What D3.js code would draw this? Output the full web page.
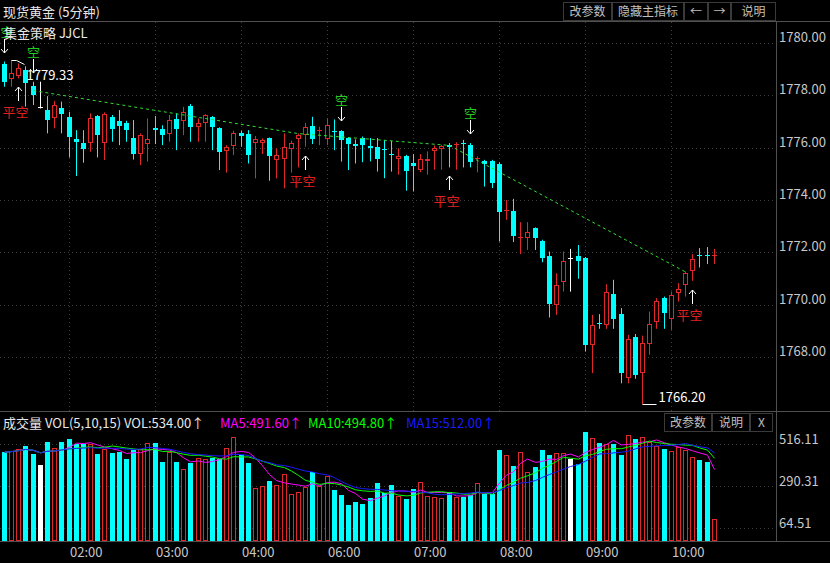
<!DOCTYPE html>
<html><head><meta charset="utf-8">
<script src="https://cdn.jsdelivr.net/npm/d3@7"></script>
<style>
body{margin:0;background:#000;}
svg{display:block;}
text{font-family:"Noto Sans CJK SC","Noto Sans",sans-serif;}
</style>
</head><body><svg id="c" width="830" height="563"></svg>
<script>
// ---------- data ----------
const times = [
"01:15","01:20","01:25","01:30","01:35","01:40","01:45","01:50","01:55",
"02:00","02:05","02:10","02:15","02:20","02:25","02:30","02:35","02:40","02:45","02:50","02:55",
"03:00","03:05","03:10","03:15","03:20","03:25","03:30","03:35","03:40","03:45","03:50","03:55",
"04:00","04:05","04:10","04:15","04:20","04:25","04:30","04:35","04:40","04:45","04:50","04:55",
"06:00","06:05","06:10","06:15","06:20","06:25","06:30","06:35","06:40","06:45","06:50","06:55",
"07:00","07:05","07:10","07:15","07:20","07:25","07:30","07:35","07:40","07:45","07:50","07:55",
"08:00","08:05","08:10","08:15","08:20","08:25","08:30","08:35","08:40","08:45","08:50","08:55",
"09:00","09:05","09:10","09:15","09:20","09:25","09:30","09:35","09:40","09:45","09:50","09:55",
"10:00","10:05","10:10","10:15","10:20","10:25","10:30"];

const open = [
1779.19,1778.60,1778.73,1778.96,1778.35,1777.55,1777.45,1777.11,1777.49,1777.15,
1776.31,1776.16,1776.16,1777.20,1776.16,1777.17,1777.01,1776.92,1776.38,1775.77,
1776.12,1776.74,1776.72,1776.51,1777.07,1777.01,1777.58,1776.77,1776.94,1777.15,
1776.73,1775.88,1776.05,1776.54,1776.51,1776.16,1776.18,1776.35,1775.52,1775.58,
1775.96,1776.31,1776.47,1776.82,1776.63,1776.31,1776.64,1776.63,1776.35,1776.13,
1776.36,1776.06,1776.01,1775.93,1775.74,1775.55,1775.68,1775.40,1775.15,1775.50,
1775.87,1775.95,1776.10,1776.10,1776.17,1776.10,1775.57,1775.49,1775.47,1775.38,
1773.58,1773.58,1772.54,1772.56,1772.92,1772.45,1771.87,1769.99,1770.86,1771.78,
1771.87,1771.80,1768.47,1769.30,1769.23,1770.40,1769.64,1767.22,1768.75,1767.39,
1768.49,1769.33,1770.27,1769.46,1770.44,1770.76,1771.27,1771.90,1771.88,1771.86];

const high = [
1779.28,1779.33,1779.21,1779.10,1778.51,1778.51,1777.96,1777.78,1777.75,1777.36,
1776.66,1776.66,1777.30,1777.24,1777.34,1777.24,1777.43,1777.02,1777.05,1776.54,
1777.11,1777.20,1776.85,1777.24,1777.30,1777.55,1777.66,1777.11,1777.27,1777.20,
1776.77,1776.09,1776.64,1776.64,1776.66,1776.44,1776.35,1776.38,1775.96,1776.54,
1776.26,1776.54,1776.94,1777.17,1776.79,1777.11,1777.07,1776.66,1776.38,1776.31,
1776.42,1776.36,1776.36,1776.29,1776.25,1775.97,1775.72,1775.75,1775.75,1775.85,
1776.08,1776.10,1776.17,1776.20,1776.29,1776.17,1775.66,1775.53,1775.53,1775.44,
1774.00,1774.04,1773.15,1773.15,1772.95,1772.48,1772.03,1771.20,1772.03,1772.13,
1772.28,1771.82,1769.61,1769.64,1770.78,1770.95,1769.87,1768.85,1768.88,1768.82,
1769.74,1770.25,1770.31,1770.50,1770.82,1771.27,1771.93,1772.16,1772.20,1772.13];

const low = [
1778.32,1778.32,1778.64,1777.56,1777.62,1777.49,1776.54,1776.73,1776.54,1775.62,
1774.91,1775.42,1775.84,1775.62,1775.52,1776.22,1776.09,1776.22,1775.54,1775.33,
1775.46,1776.13,1776.09,1776.22,1775.90,1776.47,1776.22,1776.22,1776.22,1775.90,
1775.14,1775.04,1775.71,1776.03,1775.39,1774.82,1775.75,1774.73,1774.82,1774.44,
1775.04,1775.24,1776.03,1776.13,1776.09,1776.09,1775.90,1775.46,1775.14,1775.39,
1775.44,1775.47,1775.08,1774.83,1775.08,1774.96,1774.35,1774.32,1775.06,1774.96,
1775.15,1775.15,1775.24,1775.15,1775.24,1775.24,1775.05,1774.51,1774.45,1772.41,
1773.24,1772.39,1771.93,1772.09,1772.09,1771.62,1769.51,1769.61,1770.50,1770.50,
1770.99,1768.21,1767.39,1769.08,1769.08,1769.08,1767.00,1767.00,1767.17,1766.20,
1768.09,1769.08,1769.08,1769.04,1770.12,1770.31,1770.91,1771.42,1771.55,1771.55];

const close = [
1778.51,1778.83,1779.05,1778.47,1778.00,1777.55,1777.05,1777.62,1777.27,1776.41,
1776.22,1775.93,1777.11,1776.47,1777.26,1776.70,1776.82,1776.66,1775.75,1776.47,
1776.31,1776.66,1776.47,1777.05,1776.70,1777.36,1776.79,1776.94,1777.24,1776.79,
1775.84,1776.03,1776.56,1776.45,1775.71,1776.31,1776.28,1775.67,1775.71,1776.03,
1776.18,1776.47,1776.79,1776.31,1776.66,1776.85,1776.59,1776.28,1776.12,1776.05,
1776.08,1776.00,1775.55,1775.89,1775.70,1775.68,1775.12,1775.31,1775.57,1775.55,
1775.97,1776.04,1776.01,1776.14,1776.15,1775.44,1775.60,1775.36,1774.64,1773.52,
1773.61,1772.64,1772.57,1772.76,1772.56,1771.80,1770.03,1770.76,1771.65,1771.78,
1771.65,1768.47,1769.23,1769.27,1770.48,1769.46,1767.39,1768.70,1767.30,1768.53,
1769.26,1770.15,1769.68,1770.38,1770.61,1771.20,1771.74,1771.86,1771.85,1771.89];

const volume = [
472,479,490,507,463,404,525,493,525,543,
516,516,516,463,490,466,472,436,484,490,
522,520,418,472,418,383,413,440,434,442,
434,495,552,459,416,281,290,318,297,356,
249,261,288,365,293,345,270,243,190,208,
195,229,309,252,297,238,224,276,313,238,
233,227,261,234,234,243,309,249,249,484,
457,400,472,365,395,484,459,466,466,436,
408,579,547,520,514,516,457,564,543,552,
525,505,488,481,502,484,445,431,422,115];

const priceTicks = [1780, 1778, 1776, 1774, 1772, 1770, 1768];
const volTicks = [516.11, 290.31, 64.51];
const timeTicks = ["02:00","03:00","04:00","06:00","07:00","08:00","09:00","10:00"];

const shortIdx = [0, 4, 47, 65];      // 空 signals
const coverIdx = [2, 42, 62, 96];     // 平空 signals
const trendIdx = [4, 41, 62, 95];
const trendVal = [1778.17, 1776.53, 1776.08, 1771.25];

const maPeriods = [5, 10, 15];
const maColors = ["#ff00ff", "#00ff00", "#1a1aff"];
const legendParts = ["成交量 VOL(5,10,15) VOL:534.00↑", "MA5:491.60↑", "MA10:494.80↑", "MA15:512.00↑"];

// ---------- drawing ----------
const svg = d3.select("#c");
const W = 830, H = 563, AX = 776;
const CYAN = "#00ffff", RED = "#e02828", GRID = "#3c3c3c", LINE = "#505050", TXT = "#c8c8c8";

svg.append("rect").attr("width", W).attr("height", H).attr("fill", "#000");

const x = d3.scaleBand().domain(times).range([0.4, 717.4]);
const cx = t => Math.round(x(t) + x.bandwidth() / 2);
const yP = d3.scaleLinear().domain([1766, 1780]).range([409.5, 42.7]);
const yV = d3.scaleLinear().domain([0, 516.11]).range([540.5, 444.0]);

// gridlines
const g = svg.append("g");
priceTicks.forEach(v => {
  g.append("line").attr("x1", 0).attr("x2", AX).attr("y1", Math.round(yP(v)) + 0.5).attr("y2", Math.round(yP(v)) + 0.5)
    .attr("stroke", GRID).attr("stroke-dasharray", "1,3");
});
volTicks.forEach(v => {
  g.append("line").attr("x1", 0).attr("x2", AX).attr("y1", Math.round(yV(v)) + 0.5).attr("y2", Math.round(yV(v)) + 0.5)
    .attr("stroke", GRID).attr("stroke-dasharray", "1,3");
});
timeTicks.forEach(t => {
  const xx = cx(t) + 0.5;
  g.append("line").attr("x1", xx).attr("x2", xx).attr("y1", 22).attr("y2", 411)
    .attr("stroke", GRID).attr("stroke-dasharray", "1,3");
});

// candles
const data = times.map((t, i) => ({t, i, o: open[i], h: high[i], l: low[i], c: close[i], v: volume[i]}));
const colorOf = d => d.c > d.o ? RED : (d.c < d.o ? CYAN : "#ffffff");

const cg = svg.append("g");
data.forEach(d => {
  const xc = cx(d.t);
  const col = colorOf(d);
  cg.append("line").attr("x1", xc + 0.5).attr("x2", xc + 0.5)
    .attr("y1", yP(d.h)).attr("y2", yP(d.l)).attr("stroke", col).attr("stroke-width", 1);
  const yT = Math.round(yP(Math.max(d.o, d.c)));
  const yB = Math.round(yP(Math.min(d.o, d.c)));
  if (d.c < d.o) {
    cg.append("rect").attr("x", xc - 2).attr("width", 5).attr("y", yT).attr("height", Math.max(1, yB - yT)).attr("fill", CYAN);
  } else if (d.c > d.o) {
    if (yB - yT <= 2) {
      cg.append("rect").attr("x", xc - 2).attr("width", 5).attr("y", yT).attr("height", Math.max(1, yB - yT)).attr("fill", RED);
    } else {
      cg.append("rect").attr("x", xc - 1.5).attr("width", 4).attr("y", yT + 0.5).attr("height", yB - yT - 1)
        .attr("fill", "#000").attr("stroke", RED).attr("stroke-width", 1);
    }
  } else {
    cg.append("line").attr("x1", xc - 2).attr("x2", xc + 3).attr("y1", yT + 0.5).attr("y2", yT + 0.5).attr("stroke", "#fff");
  }
});

// trend dashed line
svg.append("path")
  .attr("d", d3.line()(trendIdx.map((k, j) => [cx(times[k]) + 0.5, yP(trendVal[j])])))
  .attr("fill", "none").attr("stroke", "#33dd33").attr("stroke-width", 1).attr("stroke-dasharray", "3,3");

// signals
const sg = svg.append("g");
shortIdx.forEach(k => {
  const xc = cx(times[k]) + 0.5, tip = Math.round(yP(high[k])) - 9;
  sg.append("path").attr("d", `M${xc},${tip - 14}V${tip}M${xc - 3.5},${tip - 4}L${xc},${tip}L${xc + 3.5},${tip - 4}`)
    .attr("stroke", "#fff").attr("fill", "none");
  sg.append("text").attr("x", Math.max(xc, 7)).attr("y", tip - 16).attr("text-anchor", "middle")
    .attr("font-size", 13).attr("fill", "#22cc22").text("空");
});
coverIdx.forEach(k => {
  const xc = cx(times[k]) + 0.5, tip = Math.round(yP(low[k])) + 9;
  sg.append("path").attr("d", `M${xc},${tip + 14}V${tip}M${xc - 3.5},${tip + 4}L${xc},${tip}L${xc + 3.5},${tip + 4}`)
    .attr("stroke", "#fff").attr("fill", "none");
  sg.append("text").attr("x", Math.max(xc - 3, 14)).attr("y", tip + 30).attr("text-anchor", "middle")
    .attr("font-size", 13).attr("fill", "#e02020").text("平空");
});

// high / low markers
const iH = d3.maxIndex(high), iL = d3.minIndex(low);
{
  const xc = cx(times[iH]) + 0.5, yy = Math.round(yP(high[iH])) + 0.5;
  svg.append("path").attr("d", `M${xc},${yy}H${xc + 5}L${xc + 13},${yy + 4}`).attr("stroke", "#fff").attr("fill", "none");
  svg.append("text").attr("x", xc + 15).attr("y", yy + 19).attr("font-size", 13).attr("fill", "#fff").text(d3.format(".2f")(high[iH]));
}
{
  const xc = cx(times[iL]) + 0.5, yy = Math.round(yP(low[iL])) + 0.5;
  svg.append("path").attr("d", `M${xc},${yy}H${xc + 14}`).attr("stroke", "#fff").attr("fill", "none");
  svg.append("text").attr("x", xc + 16).attr("y", yy - 3).attr("font-size", 13).attr("fill", "#fff").text(d3.format(".2f")(low[iL]));
}

// volume bars
const vg = svg.append("g");
data.forEach(d => {
  const xc = cx(d.t);
  const col = colorOf(d);
  const yT = Math.round(yV(d.v)), yB = Math.round(yV(0));
  if (col === RED) {
    vg.append("rect").attr("x", xc - 1.5).attr("width", 4).attr("y", yT + 0.5).attr("height", yB - yT - 1)
      .attr("fill", "#000").attr("stroke", RED);
  } else {
    vg.append("rect").attr("x", xc - 2).attr("width", 5).attr("y", yT).attr("height", yB - yT).attr("fill", col);
  }
});

// volume moving averages
maPeriods.forEach((p, j) => {
  const pts = data.map((d, i) => {
    const s = volume.slice(Math.max(0, i - p + 1), i + 1);
    return [cx(d.t) + 0.5, yV(d3.mean(s))];
  });
  svg.append("path").attr("d", d3.line()(pts)).attr("fill", "none").attr("stroke", maColors[j]).attr("stroke-width", 1);
});

// frame lines
const fr = svg.append("g").attr("stroke", LINE);
fr.append("line").attr("x1", 0).attr("x2", W).attr("y1", 21.5).attr("y2", 21.5);
fr.append("line").attr("x1", 0).attr("x2", W).attr("y1", 411.5).attr("y2", 411.5);
fr.append("line").attr("x1", 0).attr("x2", W).attr("y1", 541.5).attr("y2", 541.5);
fr.append("line").attr("x1", AX + 0.5).attr("x2", AX + 0.5).attr("y1", 21).attr("y2", 542);

// axis labels
const ax = svg.append("g").attr("font-size", 13).attr("fill", TXT);
priceTicks.forEach(v => ax.append("text").attr("x", 779).attr("y", Math.round(yP(v)) - 1).text(d3.format(".2f")(v)));
volTicks.forEach(v => ax.append("text").attr("x", 779).attr("y", Math.round(yV(v))).text(d3.format(".2f")(v)));
timeTicks.forEach(t => ax.append("text").attr("x", cx(t) + 1).attr("y", 557).text(t));

// header
svg.append("text").attr("x", 3).attr("y", 17).attr("font-size", 13).attr("fill", "#e8e8e8").text("现货黄金 (5分钟)");
svg.append("text").attr("x", 4).attr("y", 38).attr("font-size", 13).attr("fill", "#e8e8e8").text("集金策略 JJCL");

function buttons(list, y0, h) {
  list.forEach(b => {
    svg.append("rect").attr("x", b[0] + 0.5).attr("y", y0 + 0.5).attr("width", b[1] - b[0]).attr("height", h)
      .attr("fill", "#000").attr("stroke", "#3a3a3a");
    svg.append("text").attr("x", (b[0] + b[1]) / 2 + 0.5).attr("y", y0 + h - 4).attr("text-anchor", "middle")
      .attr("font-size", 12).attr("fill", "#c0c0c0").text(b[2]);
  });
}
buttons([[563, 611, "改参数"], [612, 683, "隐藏主指标"], [684, 707, "←"], [708, 730, "→"], [731, 775, "说明"]], 2, 18);
buttons([[664, 711, "改参数"], [712, 749, "说明"], [750, 772, "X"]], 413, 18);

// volume legend
const legX = [3, 220, 308, 406];
const legC = ["#e8e8e8", maColors[0], maColors[1], maColors[2]];
legendParts.forEach((s, j) => {
  svg.append("text").attr("x", legX[j]).attr("y", 428).attr("font-size", 13).attr("fill", legC[j]).text(s);
});
</script>
</body></html>
